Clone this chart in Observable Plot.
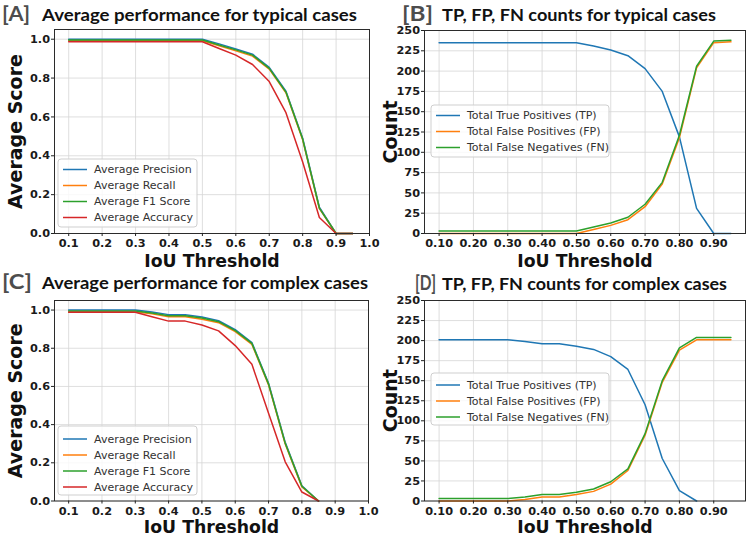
<!DOCTYPE html>
<html>
<head>
<meta charset="utf-8">
<script src="https://cdn.jsdelivr.net/npm/d3@7"></script>
<script src="https://cdn.jsdelivr.net/npm/@observablehq/plot@0.6"></script>
<style>
  body { margin: 0; background: #fff; }
  #fig { position: relative; width: 747px; height: 537px; overflow: hidden; background: #fff; }
  #fig > svg { position: absolute; }
  .panel g[aria-label$="tick label"] text { font-family: "DejaVu Sans"; font-size: 11.3px; font-weight: bold; fill: #1a1a1a; }
</style>
</head>
<body>
<div id="fig"></div>
<script>
// IoU thresholds evaluated (0.10 → 0.95 in steps of 0.05)
const thresholds = [0.10, 0.15, 0.20, 0.25, 0.30, 0.35, 0.40, 0.45, 0.50,
                    0.55, 0.60, 0.65, 0.70, 0.75, 0.80, 0.85, 0.90, 0.95];
// complex cases only reach 0.85 for the score curves
const thresholdsComplex = thresholds.slice(0, 16);

// [A] typical cases – average scores
const precisionTypical = [1.0, 1.0, 1.0, 1.0, 1.0, 1.0, 1.0, 1.0, 1.0, 0.976, 0.950, 0.923, 0.855, 0.732, 0.490, 0.135, 0.0, 0.0];
const recallTypical    = [0.992, 0.992, 0.992, 0.992, 0.992, 0.992, 0.992, 0.992, 0.992, 0.966, 0.940, 0.913, 0.846, 0.724, 0.482, 0.128, 0.0, 0.0];
const f1Typical        = [0.996, 0.996, 0.996, 0.996, 0.996, 0.996, 0.996, 0.996, 0.996, 0.970, 0.945, 0.918, 0.850, 0.728, 0.486, 0.131, 0.0, 0.0];
const accuracyTypical  = [0.987, 0.987, 0.987, 0.987, 0.987, 0.987, 0.987, 0.987, 0.987, 0.952, 0.918, 0.870, 0.782, 0.622, 0.368, 0.082, 0.0, 0.0];

// [B] typical cases – counts
const tpTypical = [235, 235, 235, 235, 235, 235, 235, 235, 235, 231, 226, 219, 203, 175, 119, 31, 0, 0];
const fpTypical = [0, 0, 0, 0, 0, 0, 0, 0, 0, 5, 10, 17, 33, 61, 118, 204, 235, 236];
const fnTypical = [3, 3, 3, 3, 3, 3, 3, 3, 3, 8, 13, 20, 36, 63, 121, 206, 237, 238];

// [C] complex cases – average scores
const precisionComplex = [1.0, 1.0, 1.0, 1.0, 1.0, 0.990, 0.976, 0.975, 0.964, 0.944, 0.897, 0.830, 0.617, 0.307, 0.080, 0.0];
const recallComplex    = [0.990, 0.990, 0.990, 0.990, 0.990, 0.980, 0.965, 0.965, 0.952, 0.934, 0.887, 0.820, 0.608, 0.298, 0.074, 0.0];
const f1Complex        = [0.995, 0.995, 0.995, 0.995, 0.995, 0.985, 0.970, 0.970, 0.958, 0.939, 0.892, 0.825, 0.612, 0.302, 0.077, 0.0];
const accuracyComplex  = [0.988, 0.988, 0.988, 0.988, 0.988, 0.965, 0.942, 0.942, 0.922, 0.891, 0.814, 0.716, 0.460, 0.205, 0.047, 0.0];

// [D] complex cases – counts
const tpComplex = [201, 201, 201, 201, 201, 199, 196, 196, 193, 189, 180, 164, 120, 53, 13, 0];
const fpComplex = [0, 0, 0, 0, 0, 2, 5, 5, 8, 12, 21, 38, 82, 148, 188, 201, 201, 201];
const fnComplex = [3, 3, 3, 3, 3, 5, 8, 8, 11, 15, 24, 40, 84, 150, 191, 204, 204, 204];

// axis ticks
const scoreXTicks = [0.1, 0.2, 0.3, 0.4, 0.5, 0.6, 0.7, 0.8, 0.9, 1.0];
const scoreYTicks = [0.0, 0.2, 0.4, 0.6, 0.8, 1.0];
const countXTicks = [0.1, 0.2, 0.3, 0.4, 0.5, 0.6, 0.7, 0.8, 0.9];
const countYTicks = [0, 25, 50, 75, 100, 125, 150, 175, 200, 225, 250];

// legend labels
const scoreLabels = ["Average Precision", "Average Recall", "Average F1 Score", "Average Accuracy"];
const countLabels = ["Total True Positives (TP)", "Total False Positives (FP)", "Total False Negatives (FN)"];

// panel titles
const panelTags = ["[A]", "[B]", "[C]", "[D]"];
const panelTitles = [
  "Average performance for typical cases",
  "TP, FP, FN counts for typical cases",
  "Average performance for complex cases",
  "TP, FP, FN counts for complex cases"
];

const C = { blue: "#1f77b4", orange: "#ff7f0e", green: "#2ca02c", red: "#d62728" };
const GRID = "#d6d6d6";
const fig = document.getElementById("fig");

function drawPanel(cfg) {
  const marks = [
    Plot.gridX(cfg.xTicks, { stroke: GRID, strokeOpacity: 1, strokeWidth: 0.8 }),
    Plot.gridY(cfg.yTicks, { stroke: GRID, strokeOpacity: 1, strokeWidth: 0.8 })
  ];
  for (const s of cfg.series) {
    marks.push(Plot.line(s.values, { x: (d, i) => s.x[i], y: d => d, stroke: s.color, strokeWidth: 1.5 }));
  }
  marks.push(
    Plot.frame({ stroke: "#2b2b2b", strokeWidth: 1 }),
    Plot.axisX(cfg.xTicks, { tickFormat: cfg.xFormat, tickSize: 3, tickPadding: 2.5, fontSize: 11.3, fontWeight: "bold", label: null }),
    Plot.axisY(cfg.yTicks, { tickFormat: cfg.yFormat, tickSize: 3, tickPadding: 1.5, fontSize: 11.3, fontWeight: "bold", label: null }),
    Plot.text(["IoU Threshold"], { text: d => d, frameAnchor: "bottom", dy: cfg.xLabelDy, lineAnchor: "bottom", fontSize: 17.3, fontWeight: "bold", fill: "#111" }),
    Plot.text([cfg.yLabel], { text: d => d, frameAnchor: "left", dx: cfg.yLabelDx, rotate: -90, lineAnchor: "bottom", textAnchor: "middle", fontSize: 19, fontWeight: "bold", fill: "#111" })
  );
  const svg = Plot.plot({
    width: cfg.width, height: cfg.height,
    marginLeft: cfg.m[0], marginRight: cfg.m[1], marginTop: cfg.m[2], marginBottom: cfg.m[3],
    x: { type: "linear", domain: cfg.xDomain },
    y: { type: "linear", domain: cfg.yDomain },
    style: { fontFamily: "DejaVu Sans", fontSize: "11.3px", fontWeight: "bold", color: "#222", background: "transparent", overflow: "visible" },
    marks
  });
  svg.classList.add("panel");
  svg.style.left = cfg.left + "px";
  svg.style.top = cfg.top + "px";
  fig.appendChild(svg);
}

const f1 = d3.format(".1f"), f2 = d3.format(".2f"), f0 = d3.format("d");
const scoreColors = [C.blue, C.orange, C.green, C.red];
const countColors = [C.blue, C.orange, C.green];

drawPanel({
  left: 0, top: 0, width: 374, height: 268, m: [54, 5, 29, 35],
  xDomain: [0.0575, 1.0], yDomain: [0, 1.05],
  xTicks: scoreXTicks, yTicks: scoreYTicks, xFormat: f1, yFormat: f1,
  yLabel: "Average Score", yLabelDx: -33, xLabelDy: 33,
  series: [precisionTypical, recallTypical, f1Typical, accuracyTypical].map((v, i) => ({ values: v, x: thresholds, color: scoreColors[i] }))
});
drawPanel({
  left: 374, top: 0, width: 373, height: 268, m: [50, 2, 30, 35],
  xDomain: [0.0575, 0.9925], yDomain: [0, 250],
  xTicks: countXTicks, yTicks: countYTicks, xFormat: f2, yFormat: f0,
  yLabel: "Count", yLabelDx: -28, xLabelDy: 33,
  series: [tpTypical, fpTypical, fnTypical].map((v, i) => ({ values: v, x: thresholds, color: countColors[i] }))
});
drawPanel({
  left: 0, top: 268, width: 374, height: 269, m: [54, 6, 32, 36.5],
  xDomain: [0.0575, 1.0], yDomain: [0, 1.05],
  xTicks: scoreXTicks, yTicks: scoreYTicks, xFormat: f1, yFormat: f1,
  yLabel: "Average Score", yLabelDx: -33, xLabelDy: 32.1,
  series: [precisionComplex, recallComplex, f1Complex, accuracyComplex].map((v, i) => ({ values: v, x: thresholdsComplex, color: scoreColors[i] }))
});
drawPanel({
  left: 374, top: 268, width: 373, height: 269, m: [50, 2, 32, 36.5],
  xDomain: [0.0575, 0.9925], yDomain: [0, 250],
  xTicks: countXTicks, yTicks: countYTicks, xFormat: f2, yFormat: f0,
  yLabel: "Count", yLabelDx: -28, xLabelDy: 32.1,
  series: [
    { values: tpComplex, x: thresholdsComplex, color: C.blue },
    { values: fpComplex, x: thresholds, color: C.orange },
    { values: fnComplex, x: thresholds, color: C.green }
  ]
});

// titles and legends drawn on an overlay
const overlay = d3.select(fig).append("svg")
  .attr("width", 747).attr("height", 537)
  .style("left", "0px").style("top", "0px");

const titleLayout = [
  { tagX: 2,   tagW: 28, x: 42,  w: 315, base: 21 },
  { tagX: 402, tagW: 31, x: 442, w: 274, base: 21 },
  { tagX: 2,   tagW: 30, x: 42,  w: 326, base: 289 },
  { tagX: 415, tagW: 21, x: 442, w: 285, base: 290 }
];
titleLayout.forEach((t, i) => {
  overlay.append("text")
    .attr("x", t.tagX).attr("y", t.base)
    .attr("textLength", t.tagW).attr("lengthAdjust", "spacingAndGlyphs")
    .style("font-family", "Lato").style("font-weight", "bold").style("font-size", "21px")
    .attr("fill", "#4d4d4d").text(panelTags[i]);
  overlay.append("text")
    .attr("x", t.x).attr("y", t.base)
    .attr("textLength", t.w).attr("lengthAdjust", "spacingAndGlyphs")
    .style("font-family", "Lato").style("font-weight", "bold").style("font-size", "17.5px")
    .attr("fill", "#111").text(panelTitles[i]);
});

function legend(box, rows, labels, colors) {
  overlay.append("rect")
    .attr("x", box[0]).attr("y", box[1]).attr("width", box[2]).attr("height", box[3])
    .attr("rx", 3).attr("fill", "#fff").attr("fill-opacity", 0.8)
    .attr("stroke", "#cfcfcf").attr("stroke-width", 1);
  labels.forEach((lab, i) => {
    const y = rows[0] + i * rows[1];
    overlay.append("line")
      .attr("x1", box[0] + 5).attr("x2", box[0] + 29).attr("y1", y).attr("y2", y)
      .attr("stroke", colors[i]).attr("stroke-width", 1.5);
    overlay.append("text")
      .attr("x", box[0] + 36).attr("y", y).attr("dy", "0.36em")
      .style("font-family", "DejaVu Sans").style("font-size", "11px")
      .attr("fill", "#333").text(lab);
  });
}
legend([58, 159, 139, 68], [169.5, 16], scoreLabels, scoreColors);
legend([431, 105, 178, 52], [115.5, 16], countLabels, countColors);
legend([58, 426, 139, 69], [439, 16], scoreLabels, scoreColors);
legend([431, 373, 178, 52], [385, 16], countLabels, countColors);
</script>
</body>
</html>
